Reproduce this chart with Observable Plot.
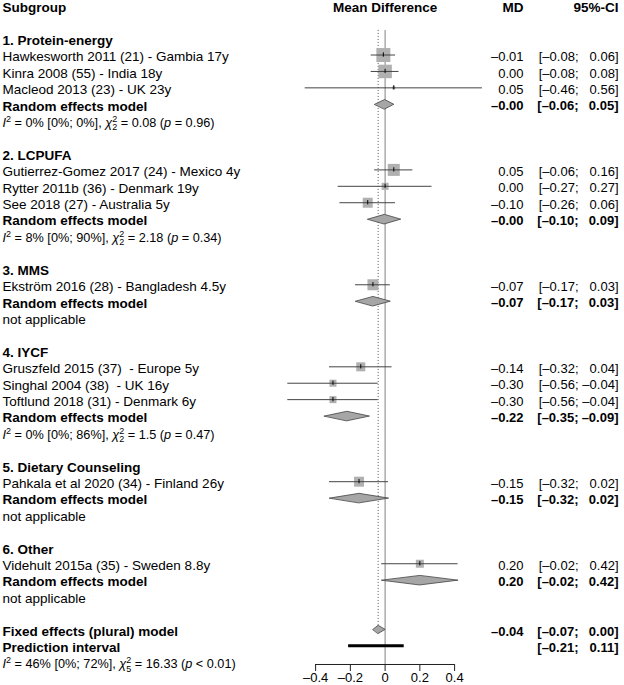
<!DOCTYPE html>
<html><head><meta charset="utf-8">
<script src="https://cdn.jsdelivr.net/npm/d3@7"></script>
<script src="https://cdn.jsdelivr.net/npm/@observablehq/plot@0.6"></script>
<style>
html,body{margin:0;padding:0;background:#fff;}
#chart svg{display:block;}
</style></head><body><div id="chart"></div>
<script>
// ---------- data ----------
const groupNames = ["1. Protein-energy", "2. LCPUFA", "3. MMS", "4. IYCF", "5. Dietary Counseling", "6. Other"];
const groupMD    = [-0.003, -0.004, -0.07, -0.22, -0.15, 0.20];
const groupLower = [-0.06, -0.10, -0.17, -0.35, -0.32, -0.02];
const groupUpper = [0.05, 0.09, 0.03, -0.09, 0.02, 0.42];
const groupI2    = ["0%", "8%", null, "0%", null, null];
const groupI2CI  = ["[0%; 0%]", "[0%; 90%]", null, "[0%; 86%]", null, null];
const groupQ     = ["0.08", "2.18", null, "1.5", null, null];
const groupDF    = [2, 2, null, 2, null, null];
const groupP     = ["= 0.96", "= 0.34", null, "= 0.47", null, null];

const studyNames = [
  "Hawkesworth 2011 (21) - Gambia 17y",
  "Kinra 2008 (55) - India 18y",
  "Macleod 2013 (23) - UK 23y",
  "Gutierrez-Gomez 2017 (24) - Mexico 4y",
  "Rytter 2011b (36) - Denmark 19y",
  "See 2018 (27) - Australia 5y",
  "Ekström 2016 (28) - Bangladesh 4.5y",
  "Gruszfeld 2015 (37)  - Europe 5y",
  "Singhal 2004 (38)  - UK 16y",
  "Toftlund 2018 (31) - Denmark 6y",
  "Pahkala et al 2020 (34) - Finland 26y",
  "Videhult 2015a (35) - Sweden 8.8y"
];
const studyGroup  = [0, 0, 0, 1, 1, 1, 2, 3, 3, 3, 4, 5];
const studyMD     = [-0.01, 0.00, 0.05, 0.05, 0.00, -0.10, -0.07, -0.14, -0.30, -0.30, -0.15, 0.20];
const studyLower  = [-0.08, -0.08, -0.46, -0.06, -0.27, -0.26, -0.17, -0.32, -0.56, -0.56, -0.32, -0.02];
const studyUpper  = [0.06, 0.08, 0.56, 0.16, 0.27, 0.06, 0.03, 0.04, -0.04, -0.04, 0.02, 0.42];
const studyWeight = [17.1, 15.9, 0.8, 12.6, 4.3, 8.7, 10.6, 7.1, 4.3, 4.3, 8.7, 5.6];

const fixedMD = -0.04, fixedLower = -0.07, fixedUpper = 0.00;
const predLower = -0.21, predUpper = 0.11;
const overallI2 = "46%", overallI2CI = "[0%; 72%]", overallQ = "16.33", overallDF = 5, overallP = "< 0.01";

const axisTicks = [-0.4, -0.2, 0, 0.2, 0.4];
const headers = ["Subgroup", "Mean Difference", "MD", "95%-CI"];

// ---------- layout table ----------
const fmt = v => v.toFixed(2).replace("-", "\u2013");
const labels = [];   // left column text
const studies = [];  // study rows
const diamonds = []; // diamond rows
const values = [];   // MD / CI columns
const stats = [];    // heterogeneity lines
let row = 2;
groupNames.forEach((g, gi) => {
  labels.push({row, text: g, bold: true});
  row++;
  studyNames.forEach((s, si) => {
    if (studyGroup[si] !== gi) return;
    labels.push({row, text: s, bold: false});
    studies.push({row, md: studyMD[si], lower: studyLower[si], upper: studyUpper[si], w: studyWeight[si]});
    values.push({row, md: fmt(studyMD[si]), lo: "[" + fmt(studyLower[si]) + ";", hi: fmt(studyUpper[si]) + "]", bold: false});
    row++;
  });
  labels.push({row, text: "Random effects model", bold: true});
  diamonds.push({row, md: groupMD[gi], lower: groupLower[gi], upper: groupUpper[gi], h: 0.29});
  values.push({row, md: fmt(groupMD[gi]), lo: "[" + fmt(groupLower[gi]) + ";", hi: fmt(groupUpper[gi]) + "]", bold: true});
  row++;
  if (groupI2[gi] !== null) {
    stats.push({row, key: "stat" + gi, i2: groupI2[gi], i2ci: groupI2CI[gi], df: groupDF[gi], q: groupQ[gi], p: groupP[gi]});
  } else {
    labels.push({row, text: "not applicable", bold: false});
  }
  row += 2;
});
const fixedRow = row;
labels.push({row, text: "Fixed effects (plural) model", bold: true});
diamonds.push({row, md: fixedMD, lower: fixedLower, upper: fixedUpper, h: 0.25});
values.push({row, md: fmt(fixedMD), lo: "[" + fmt(fixedLower) + ";", hi: fmt(fixedUpper) + "]", bold: true});
row++;
const predRow = row;
labels.push({row, text: "Prediction interval", bold: true});
values.push({row, md: "", lo: "[" + fmt(predLower) + ";", hi: fmt(predUpper) + "]", bold: true});
row++;
stats.push({row, key: "statAll", i2: overallI2, i2ci: overallI2CI, df: overallDF, q: overallQ, p: overallP});
const lastRow = row;
const axisRow = lastRow + 0.14;

const diamondPts = diamonds.flatMap((d, i) => [
  {id: i, x: d.lower, y: d.row},
  {id: i, x: d.md, y: d.row - d.h},
  {id: i, x: d.upper, y: d.row},
  {id: i, x: d.md, y: d.row + d.h}
]);

const FS = 13.5;   // label font size
const VS = 13;     // value column font size
const W = 624, H = 685;
const textDy = 2;
const boldLabels = labels.filter(d => d.bold), plainLabels = labels.filter(d => !d.bold);
const boldValues = values.filter(d => d.bold), plainValues = values.filter(d => !d.bold);

const valueMarks = (data, weight) => [
  Plot.text(data, {frameAnchor: "right", y: "row", text: "md", dx: -101, dy: textDy, textAnchor: "end", fontWeight: weight, fontSize: VS}),
  Plot.text(data, {frameAnchor: "right", y: "row", text: "lo", dx: -46, dy: textDy, textAnchor: "end", fontWeight: weight, fontSize: VS}),
  Plot.text(data, {frameAnchor: "right", y: "row", text: "hi", dx: -6, dy: textDy, textAnchor: "end", fontWeight: weight, fontSize: VS})
];

const plot = Plot.plot({
  width: W, height: H,
  marginLeft: 2, marginRight: 0, marginTop: 0, marginBottom: H - 664,
  style: {fontFamily: "'Liberation Sans', Arial, Helvetica, sans-serif", fontSize: FS + "px", color: "#000", background: "#fff"},
  x: {domain: [-0.4, 0.4], range: [315.1, 454.1]},
  y: {domain: [0, lastRow], range: [5.3, 5.3 + lastRow * 16.41], axis: null},
  r: {type: "sqrt", domain: [0, 17.1], range: [0, 7.9]},
  marks: [
    // reference lines
    Plot.ruleX([0], {y1: 1.5, y2: axisRow, stroke: "#808080", strokeWidth: 1}),
    Plot.ruleX([fixedMD], {y1: 1.5, y2: fixedRow - 0.25, stroke: "#555", strokeWidth: 1, strokeDasharray: "1,2"}),
    // study squares, CIs, estimate ticks
    Plot.dot(studies, {x: "md", y: "row", r: "w", symbol: "square", fill: "#b0b0b0", stroke: null}),
    Plot.ruleY(studies, {y: "row", x1: "lower", x2: "upper", stroke: "#444", strokeWidth: 1}),
    Plot.ruleX(studies, {x: "md", y1: d => d.row - 0.13, y2: d => d.row + 0.13, stroke: "#000", strokeWidth: 1}),
    // diamonds
    Plot.line(diamondPts, {x: "x", y: "y", z: "id", curve: "linear-closed", fill: "#a6a6a6", stroke: "#444", strokeWidth: 0.8}),
    // prediction interval
    Plot.ruleY([predRow], {x1: predLower, x2: predUpper, stroke: "#000", strokeWidth: 3}),
    // axis
    Plot.ruleY([axisRow], {x1: axisTicks[0], x2: axisTicks[axisTicks.length - 1], stroke: "#222", strokeWidth: 1}),
    Plot.axisX({ticks: axisTicks, tickSize: 7, tickPadding: 1, label: null, stroke: "#222", fontSize: VS,
      tickFormat: d => d === 0 ? "0" : d.toFixed(1).replace("-", "\u2013")}),
    // header
    Plot.text([headers[0]], {frameAnchor: "left", y: () => 0, text: d => d, dy: textDy, textAnchor: "start", fontWeight: "bold"}),
    Plot.text([headers[1]], {x: () => 0, y: () => 0, text: d => d, dy: textDy, fontWeight: "bold"}),
    Plot.text([headers[2]], {frameAnchor: "right", y: () => 0, text: d => d, dx: -101, dy: textDy, textAnchor: "end", fontWeight: "bold"}),
    Plot.text([headers[3]], {frameAnchor: "right", y: () => 0, text: d => d, dx: -6, dy: textDy, textAnchor: "end", fontWeight: "bold"}),
    // left labels
    Plot.text(boldLabels, {frameAnchor: "left", y: "row", text: "text", dy: textDy, textAnchor: "start", fontWeight: "bold"}),
    Plot.text(plainLabels, {frameAnchor: "left", y: "row", text: "text", dy: textDy, textAnchor: "start"}),
    Plot.text(stats, {frameAnchor: "left", y: "row", text: "key", dy: textDy, textAnchor: "start", fontSize: 12.7}),
    // value columns
    ...valueMarks(plainValues, "normal"),
    ...valueMarks(boldValues, "bold")
  ]
});

// heterogeneity statistics with italic symbols, superscripts and subscripts
const statByKey = new Map(stats.map(s => [s.key, s]));
const NS = "http://www.w3.org/2000/svg";
d3.select(plot).selectAll("text").each(function() {
  const s = statByKey.get(this.textContent);
  if (!s) return;
  const el = this;
  el.textContent = "";
  const add = (str, attrs = {}) => {
    const t = document.createElementNS(NS, "tspan");
    t.textContent = str;
    for (const k in attrs) t.setAttribute(k, attrs[k]);
    el.appendChild(t);
  };
  add("I", {"font-style": "italic"});
  add("2", {"font-size": "9px", dy: "-5"});
  add(" = " + s.i2 + " " + s.i2ci + ", ", {dy: "5"});
  add("\u03c7", {"font-style": "italic"});
  add("2", {"font-size": "9px", dy: "-5"});
  add(String(s.df), {"font-size": "9px", dx: "-5", dy: "8.5"});
  add(" = " + s.q + " (", {dy: "-3.5"});
  add("p", {"font-style": "italic"});
  add(" " + s.p + ")");
});

document.getElementById("chart").appendChild(plot);
</script>
</body></html>
